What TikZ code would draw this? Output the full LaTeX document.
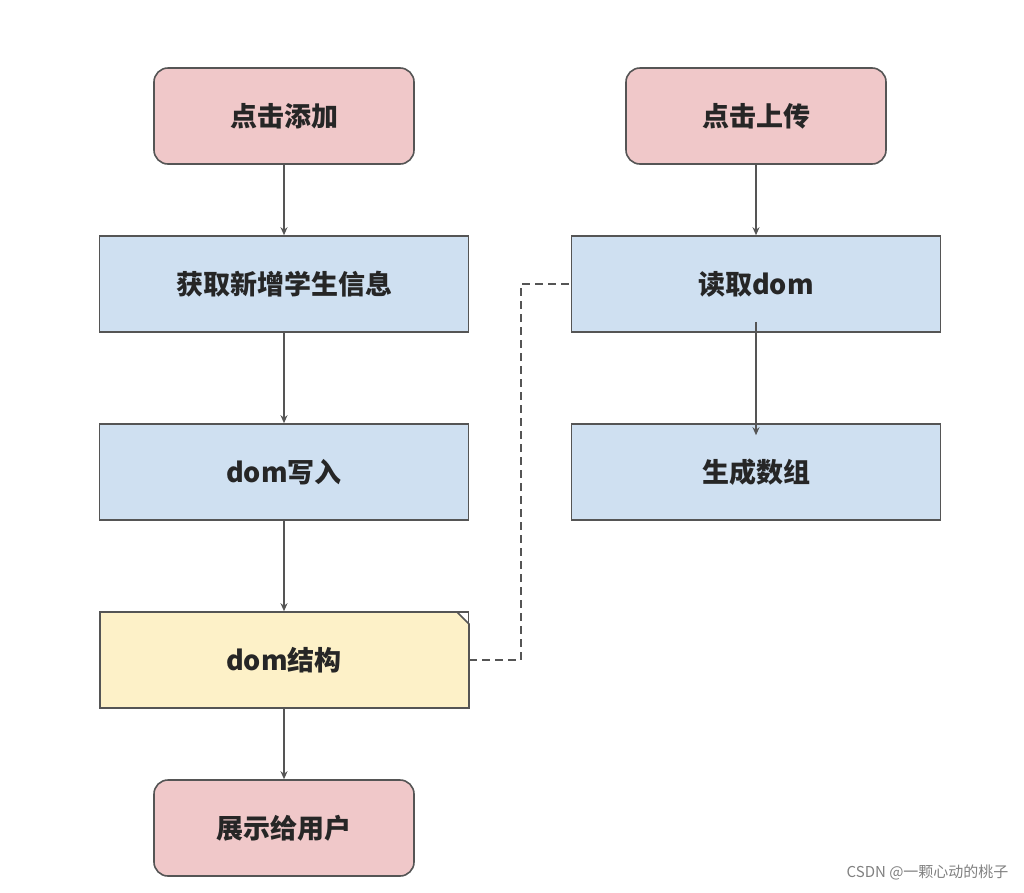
\documentclass[tikz,border=0pt]{standalone}
\usepackage{fontspec}
\setmainfont{Noto Sans CJK SC}
\newfontfamily\cjk{Noto Sans CJK SC}
\usetikzlibrary{arrows.meta}
\definecolor{pk}{HTML}{F0C8C9}
\definecolor{bl}{HTML}{CFE0F1}
\definecolor{yl}{HTML}{FDF1C8}
\definecolor{bd}{HTML}{555555}
\begin{document}
\begin{tikzpicture}[x=1pt,y=-1pt,
  base/.style={draw=bd,line width=1.6pt,minimum height=96pt,font=\fontsize{27}{30}\selectfont\bfseries,text=black!85,inner sep=0pt},
  term/.style={base,fill=pk,rounded corners=14pt,minimum width=260pt},
  proc/.style={base,fill=bl,minimum width=369pt},
  arr/.style={draw=bd,line width=1.6pt,-{Stealth[length=8pt,width=7pt]}}]
\useasboundingbox (0,0) rectangle (1024,892);
\node[term] (a) at (284,116) {点击添加};
\node[term] (b) at (756,116) {点击上传};
\node[proc] (c) at (284,284) {获取新增学生信息};
\node[proc] (d) at (756,284) {读取dom};
\node[proc] (e) at (284,472) {dom写入};
\node[proc] (f) at (756,472) {生成数组};
\node[base,minimum width=369pt] (g) at (284,660) {dom结构};
\fill[yl,draw=bd,line width=1.6pt] (100,612) -- (457,612) -- (469,624) -- (469,708) -- (100,708) -- cycle;
\node[font=\fontsize{27}{30}\selectfont\bfseries,text=black!85] at (g) {dom结构};
\node[term] (h) at (284,828) {展示给用户};
\draw[arr] (a) -- (c);
\draw[arr] (b) -- (d);
\draw[arr] (c) -- (e);
\draw[arr] (e) -- (g);
\draw[arr] (g) -- (h);
\draw[arr] ([yshift=11pt]d.south) -- ([yshift=-12pt]f.north);
\draw[bd,line width=1.6pt,dash pattern=on 8pt off 5pt] (g.east) -- (521,660) -- (521,284) -- (d.west);
\node[anchor=east,text=gray,font=\fontsize{15}{17}\selectfont] (w) at (1012,872) {CSDN @一颗心动的桃子};
\end{tikzpicture}
\end{document}
